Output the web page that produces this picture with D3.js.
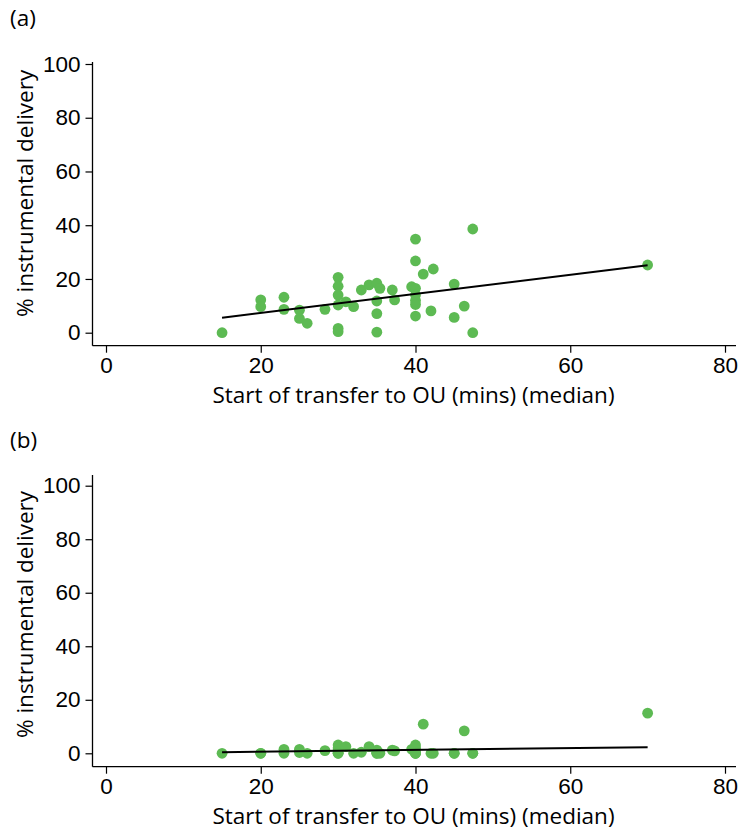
<!DOCTYPE html>
<html>
<head>
<meta charset="utf-8">
<script src="https://cdn.jsdelivr.net/npm/d3@7"></script>
<style>
  html, body { margin: 0; padding: 0; background: #fff; }
  svg { display: block; font-family: "Open Sans", "Noto Sans", sans-serif; }
</style>
</head>
<body>
<svg id="chart" width="739" height="832"></svg>
<script>
// Median minutes from decision to start of transfer to the obstetric unit, per unit
const transferMins = [
  15, 20, 20, 23, 23, 25, 25, 26, 28.3, 30,
  30, 30, 30, 30, 30, 31, 32, 33, 34, 35,
  35.4, 35, 35, 35, 37, 37.3, 40, 40, 39.5, 40,
  40, 40, 40, 40, 41, 42.3, 42, 45, 45, 46.3,
  47.4, 47.4, 70
];

// (a) % instrumental delivery
const instrumentalA = [
  0, 12.2, 9.7, 13.2, 8.7, 8.4, 5.3, 3.5, 8.7, 20.6,
  17.3, 14, 10.3, 1.6, 0.4, 11.5, 9.7, 15.9, 17.8, 18.4,
  16.5, 11.8, 7.1, 0.2, 15.9, 12.2, 34.8, 26.7, 17.1, 16.5,
  14, 12, 10.5, 6.2, 21.8, 23.7, 8.1, 18.1, 5.7, 9.9,
  38.6, 0, 25.2
];

// (b) % instrumental delivery
const instrumentalB = [
  0, 0, 0, 1.5, 0, 1.5, 0.3, 0, 1.0, 3.1,
  1.2, 0, 0.5, 2.0, 0, 2.5, 0, 0.4, 2.5, 1.2,
  0, 0, 0.5, 0, 1.2, 0.9, 3.1, 1.2, 1.5, 0.3,
  0, 0, 2.0, 0, 10.9, 0, 0, 0, 0, 8.4,
  0, 0, 15
];

// Fitted linear trend, endpoints [x, y]
const fitA = [[15, 5.6], [70, 25.1]];
const fitB = [[15, 0.4], [70, 2.3]];

const xTicks = [0, 20, 40, 60, 80];
const yTicks = [0, 20, 40, 60, 80, 100];
const panelLabels = ["(a)", "(b)"];
const xTitle = "Start of transfer to OU (mins) (median)";
const yTitle = "% instrumental delivery";

const svg = d3.select("#chart");
const green = "#5dba53";
const fontSize = 22.5;

const x = d3.scaleLinear().domain([0, 80]).range([106, 725]);

function drawPanel(cfg) {
  const g = svg.append("g");
  const y = d3.scaleLinear().domain([0, 100]).range([cfg.y0, cfg.y100]);

  // panel letter
  g.append("text")
    .attr("x", 10).attr("y", cfg.labelY)
    .attr("font-size", fontSize)
    .attr("fill", "#000")
    .text(cfg.label);

  // left axis
  const yAxis = d3.axisLeft(y).tickValues(yTicks).tickSize(7).tickPadding(5);
  const gy = g.append("g").attr("transform", "translate(92.5,0)").call(yAxis);
  gy.select(".domain").remove();
  gy.append("line")
    .attr("x1", 0).attr("x2", 0)
    .attr("y1", cfg.axisTop).attr("y2", cfg.axisBottom)
    .attr("stroke", "#000").attr("stroke-width", 1.3);
  gy.selectAll(".tick line").attr("stroke", "#000").attr("stroke-width", 1.2);
  gy.selectAll(".tick text")
    .attr("font-size", fontSize)
    .attr("font-family", null)
    .attr("fill", "#000");

  // bottom axis
  const xAxis = d3.axisBottom(x).tickValues(xTicks).tickSize(7).tickPadding(4);
  const gx = g.append("g").attr("transform", `translate(0,${cfg.axisBottom})`).call(xAxis);
  gx.select(".domain").remove();
  gx.append("line")
    .attr("x1", 92.5).attr("x2", 736)
    .attr("y1", 0).attr("y2", 0)
    .attr("stroke", "#000").attr("stroke-width", 1.3);
  gx.selectAll(".tick line").attr("stroke", "#000").attr("stroke-width", 1.2);
  gx.selectAll(".tick text")
    .attr("font-size", fontSize)
    .attr("font-family", null)
    .attr("fill", "#000");

  // axis titles
  g.append("text")
    .attr("x", (x(0) + x(80)) / 2 - 2)
    .attr("y", cfg.axisBottom + 57)
    .attr("text-anchor", "middle")
    .attr("font-size", fontSize)
    .text(xTitle);

  g.append("text")
    .attr("transform", `translate(33,${(cfg.y0 + cfg.y100) / 2 - 5}) rotate(-90)`)
    .attr("text-anchor", "middle")
    .attr("font-size", fontSize)
    .text(yTitle);

  // points
  g.append("g").selectAll("circle")
    .data(transferMins.map((m, i) => [m, cfg.values[i]]))
    .join("circle")
    .attr("cx", d => x(d[0]))
    .attr("cy", d => y(d[1]))
    .attr("r", 5.4)
    .attr("fill", green);

  // trend line
  g.append("path")
    .datum(cfg.fit)
    .attr("d", d3.line().x(d => x(d[0])).y(d => y(d[1])))
    .attr("fill", "none")
    .attr("stroke", "#000")
    .attr("stroke-width", 2);
}

drawPanel({
  label: panelLabels[0], labelY: 26, values: instrumentalA, fit: fitA,
  y0: 332.7, y100: 64, axisTop: 62, axisBottom: 345.7
});
drawPanel({
  label: panelLabels[1], labelY: 448, values: instrumentalB, fit: fitB,
  y0: 753.3, y100: 485.7, axisTop: 475, axisBottom: 766.7
});
</script>
</body>
</html>
